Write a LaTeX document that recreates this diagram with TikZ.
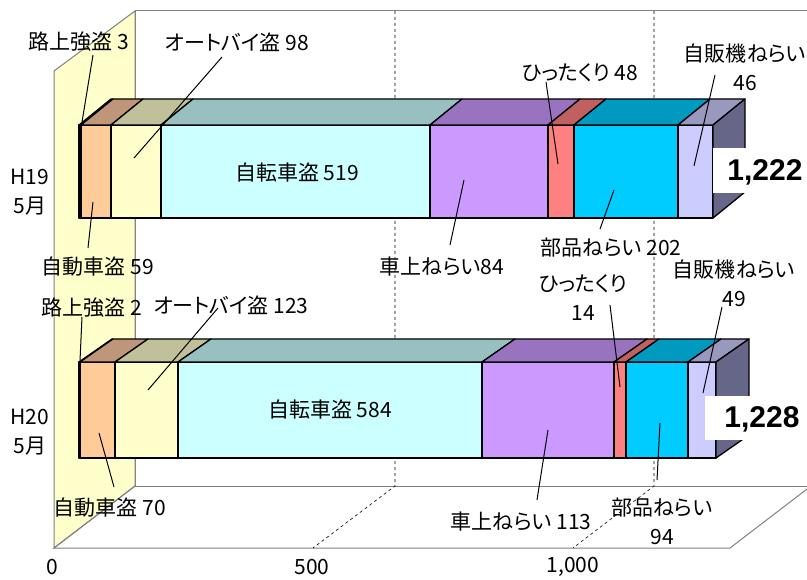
\documentclass[tikz,border=0pt]{standalone}
\usepackage{fontspec}
\setmainfont[RawFeature=+palt]{Noto Sans CJK JP}
\newfontfamily\totfont{Liberation Sans}
\usetikzlibrary{positioning,calc}
\definecolor{wallyel}{HTML}{FFFFCC}
\definecolor{robF}{HTML}{996633}\definecolor{robT}{HTML}{B08060}
\definecolor{carF}{HTML}{FFCC99}\definecolor{carT}{HTML}{C0967A}
\definecolor{motoF}{HTML}{FFFFCC}\definecolor{motoT}{HTML}{C0C09A}
\definecolor{bikeF}{HTML}{CCFFFF}\definecolor{bikeT}{HTML}{99C0C0}
\definecolor{vehF}{HTML}{CC99FF}\definecolor{vehT}{HTML}{9973C0}
\definecolor{snF}{HTML}{FF8080}\definecolor{snT}{HTML}{C06060}
\definecolor{partF}{HTML}{00CCFF}\definecolor{partT}{HTML}{0099C0}
\definecolor{vendF}{HTML}{CCCCFF}\definecolor{vendT}{HTML}{9999C0}
\definecolor{sideC}{HTML}{666688}
\tikzstyle{face}=[draw=black,line width=1.3pt,line join=round]
\tikzstyle{wall}=[draw=gray,line width=1pt]
\tikzstyle{gridl}=[dashed,line width=0.6pt]
\tikzstyle{lbl}=[inner sep=0pt,font=\fontsize{21}{29}\selectfont,align=center]
\tikzstyle{lead}=[draw=black,line width=1pt]
\tikzstyle{tot}=[inner sep=0pt,font=\totfont\bfseries\fontsize{30}{32}\selectfont]
% x1 x2 ytop ybot dx dy front top
\newcommand{\barseg}[8]{%
  \filldraw[face,fill=#7] (#1,#3) rectangle (#2,#4);
  \filldraw[face,fill=#8] (#1,#3) -- (#2,#3) -- (#2+#5,#3+#6) -- (#1+#5,#3+#6) -- cycle;
}

\begin{document}
\begin{tikzpicture}[x=1pt,y=-1pt]
  \useasboundingbox (0,0) rectangle (807,580);
% walls and floor
  \draw[wall] (807,11) -- (135,11) -- (135,486) -- (807,486);
  \filldraw[wall,fill=wallyel] (54,71) -- (135,11) -- (135,486) -- (54,548) -- cycle;
  \draw[wall] (135,486) -- (54,548) -- (730,548) -- (811,486);
  \foreach \bx/\fx in {395/313,654/573}
    \draw[gridl] (\bx,11) -- (\bx,486) -- (\fx,548);
% axis
  \node[lbl] (ax0)    at (52,567)  {0};
  \node[lbl] (ax500)  at (312,567) {500};
  \node[lbl] (ax1000) at (573,567) {1,000};
  \node[lbl] (cat19)  at (30,192)  {H19\\5月};
  \node[lbl] (cat20)  at (30,432)  {H20\\5月};
% H19
  \barseg{79}{81}{125}{218}{32}{-26}{robF}{robT}
  \barseg{81}{111}{125}{218}{32}{-26}{carF}{carT}
  \barseg{111}{161}{125}{218}{32}{-26}{motoF}{motoT}
  \barseg{161}{430}{125}{218}{32}{-26}{bikeF}{bikeT}
  \barseg{430}{548}{125}{218}{32}{-26}{vehF}{vehT}
  \barseg{548}{574}{125}{218}{32}{-26}{snF}{snT}
  \barseg{574}{678}{125}{218}{32}{-26}{partF}{partT}
  \barseg{678}{713}{125}{218}{32}{-26}{vendF}{vendT}
  \filldraw[face,fill=sideC] (713,125) -- (745,99) -- (745,192) -- (713,218) -- cycle;
% H20
  \barseg{79}{80}{362}{458}{33}{-23}{robF}{robT}
  \barseg{80}{115}{362}{458}{33}{-23}{carF}{carT}
  \barseg{115}{178}{362}{458}{33}{-23}{motoF}{motoT}
  \barseg{178}{482}{362}{458}{33}{-23}{bikeF}{bikeT}
  \barseg{482}{614}{362}{458}{33}{-23}{vehF}{vehT}
  \barseg{614}{626}{362}{458}{33}{-23}{snF}{snT}
  \barseg{626}{688}{362}{458}{33}{-23}{partF}{partT}
  \barseg{688}{716}{362}{458}{33}{-23}{vendF}{vendT}
  \filldraw[face,fill=sideC] (716,362) -- (749,339) -- (749,435) -- (716,458) -- cycle;
% totals
  \fill[white] (713,148) rectangle (807,193);
  \fill[white] (705,396) rectangle (807,440);
  \node[tot] (tot19) at (765,172) {1,222};
  \node[tot] (tot20) at (762,419) {1,228};
% labels H19
  \node[lbl] (l19rob)   at (79,42)   {路上強盗 3};
  \node[lbl] (l19moto)  at (237,42)  {オートバイ盗 98};
  \node[lbl] (l19bike)  at (297,173) {自転車盗 519};
  \node[lbl] (l19car)   at (98,267)  {自動車盗 59};
  \node[lbl] (l19veh)   at (442,267) {車上ねらい84};
  \node[lbl] (l19sn)    at (580,73)  {ひったくり 48};
  \node[lbl] (l19part)  at (611,248) {部品ねらい 202};
  \node[lbl] (l19vend)  at (745,67)  {自販機ねらい\\46};
% labels H20
  \node[lbl] (l20rob)   at (92,308)  {路上強盗 2};
  \node[lbl] (l20moto)  at (231,305) {オートバイ盗 123};
  \node[lbl] (l20bike)  at (330,410) {自転車盗 584};
  \node[lbl] (l20car)   at (110,508) {自動車盗 70};
  \node[lbl] (l20veh)   at (521,522) {車上ねらい 113};
  \node[lbl] (l20sn)    at (583,298) {ひったくり\\14};
  \node[lbl] (l20part)  at (662,521) {部品ねらい\\94};
  \node[lbl] (l20vend)  at (734,283) {自販機ねらい\\49};
% leader ends
  \coordinate (a19rob)  at (93,55);   \coordinate (b19rob)  at (82,122);
  \coordinate (a19moto) at (222,57);  \coordinate (b19moto) at (134,158);
  \coordinate (a19car)  at (88,248);  \coordinate (b19car)  at (93,202);
  \coordinate (a19veh)  at (450,245); \coordinate (b19veh)  at (464,180);
  \coordinate (a19sn)   at (546,82);  \coordinate (b19sn)   at (558,164);
  \coordinate (a19part) at (600,229); \coordinate (b19part) at (614,190);
  \coordinate (a19vend) at (715,75);  \coordinate (b19vend) at (694,166);
  \coordinate (a20rob)  at (82,317);  \coordinate (b20rob)  at (80,361);
  \coordinate (a20moto) at (218,308); \coordinate (b20moto) at (148,390);
  \coordinate (a20car)  at (114,487); \coordinate (b20car)  at (99,433);
  \coordinate (a20veh)  at (537,500); \coordinate (b20veh)  at (548,430);
  \coordinate (a20sn)   at (610,305); \coordinate (b20sn)   at (620,387);
  \coordinate (a20part) at (657,480); \coordinate (b20part) at (660,423);
  \coordinate (a20vend) at (722,307); \coordinate (b20vend) at (703,393);
  \foreach \n in {19rob,19moto,19car,19veh,19sn,19part,19vend,20rob,20moto,20car,20veh,20sn,20part,20vend}
    \draw[lead] (a\n) -- (b\n);
\end{tikzpicture}
\end{document}
